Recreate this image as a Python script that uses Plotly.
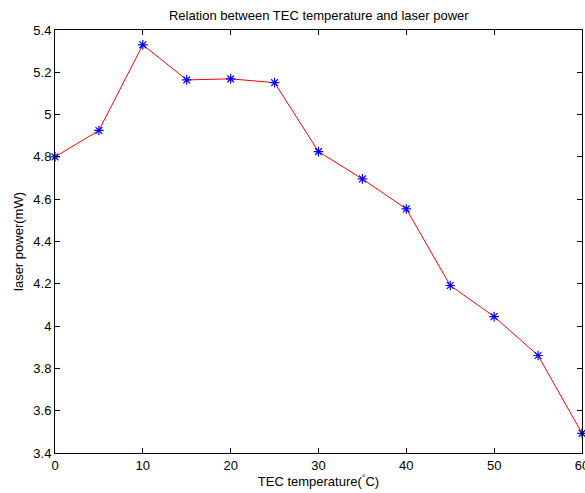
import plotly.graph_objects as go

temperature = [0, 5, 10, 15, 20, 25, 30, 35, 40, 45, 50, 55, 60]
power = [4.80, 4.925, 5.33, 5.164, 5.169, 5.151, 4.825, 4.696, 4.554, 4.192, 4.045, 3.861, 3.493]

x_ticks = [0, 10, 20, 30, 40, 50, 60]
y_ticks = [3.4, 3.6, 3.8, 4.0, 4.2, 4.4, 4.6, 4.8, 5.0, 5.2, 5.4]
y_tick_text = ["3.4", "3.6", "3.8", "4", "4.2", "4.4", "4.6", "4.8", "5", "5.2", "5.4"]

FONT = "Liberation Sans, Arial, sans-serif"

fig = go.Figure()
fig.add_trace(go.Scatter(
    x=temperature, y=power, mode="lines+markers",
    line=dict(color="red", width=1),
    marker=dict(symbol="asterisk-open", size=8, color="blue", line=dict(color="blue", width=1.2)),
    cliponaxis=False, showlegend=False,
))

axis_common = dict(
    showline=True, linecolor="black", linewidth=1, mirror="ticks",
    ticks="inside", ticklen=5, tickcolor="black", tickwidth=1,
    showgrid=False, zeroline=False, ticklabeloverflow="allow", automargin=False,
    tickfont=dict(family=FONT, size=13, color="black"),
)

fig.update_layout(
    width=585, height=493,
    margin=dict(l=55, r=3, t=30, b=40),
    paper_bgcolor="white", plot_bgcolor="white",
    font=dict(family=FONT, size=13, color="black"),
    title=dict(text="Relation between TEC temperature and laser power", x=0.545, xanchor="center",
               y=0.9696, yanchor="middle", yref="container", font=dict(size=13)),
    xaxis=dict(range=[0, 60], tickvals=x_ticks, ticktext=[str(v) for v in x_ticks],
               title=dict(text="TEC temperature(<sup>°</sup>C)", standoff=2, font=dict(size=13)),
               **axis_common),
    yaxis=dict(range=[3.4, 5.4], tickvals=y_ticks, ticktext=y_tick_text,
               title=dict(text="laser power(mW)", standoff=6, font=dict(size=13)),
               **axis_common),
)

fig.write_html("out.html")
